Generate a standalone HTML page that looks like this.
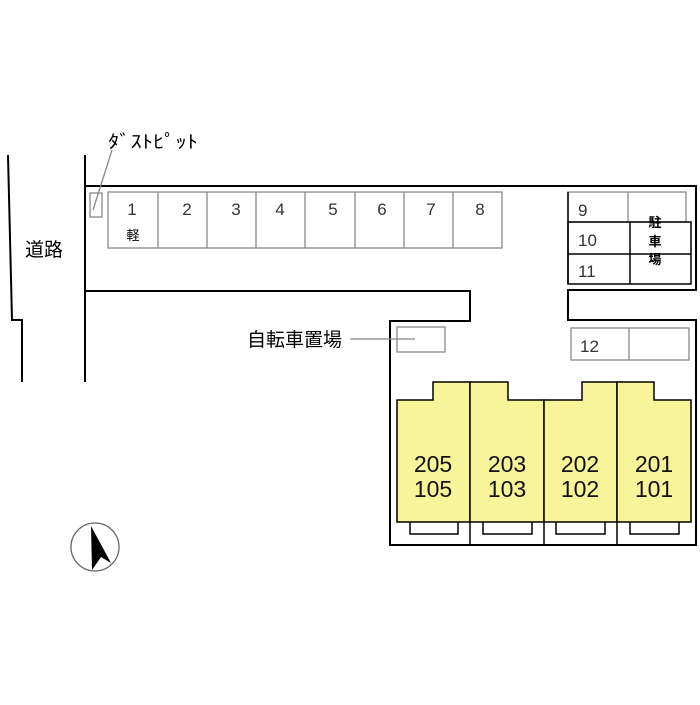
<!DOCTYPE html>
<html><head><meta charset="utf-8"><style>
html,body{margin:0;padding:0;background:#fff}
svg text{font-family:"Liberation Sans","Noto Sans CJK JP",sans-serif}
</style></head><body>
<svg width="700" height="700" viewBox="0 0 700 700" xmlns="http://www.w3.org/2000/svg">
<rect width="700" height="700" fill="#fff"/>
<g fill="none" stroke="#000" stroke-width="2">
<polyline points="8,155 12,320 22,320 22,382"/>
<line x1="85" y1="155" x2="85" y2="382"/>
<polyline points="85,186 696,186 696,290 568,290 568,320 696,320 696,545 390,545 390,321 470,321 470,291 85,291"/>
</g>
<g fill="none" stroke="#888" stroke-width="1.3">
<rect x="108" y="192" width="394" height="56"/>
<line x1="158" y1="192" x2="158" y2="248"/><line x1="207" y1="192" x2="207" y2="248"/>
<line x1="256" y1="192" x2="256" y2="248"/><line x1="305" y1="192" x2="305" y2="248"/>
<line x1="355" y1="192" x2="355" y2="248"/><line x1="404" y1="192" x2="404" y2="248"/>
<line x1="453" y1="192" x2="453" y2="248"/>
<rect x="90" y="193" width="12" height="24"/>
<line x1="112" y1="150" x2="93" y2="210"/>
<rect x="568" y="192" width="118" height="30"/>
<line x1="628" y1="192" x2="628" y2="222"/>
<rect x="571" y="328" width="118" height="32"/>
<line x1="629" y1="328" x2="629" y2="360"/>
<rect x="397" y="327" width="48" height="25"/>
<line x1="350" y1="339" x2="415" y2="339"/>
</g>
<g fill="none" stroke="#000" stroke-width="1.5">
<rect x="568" y="222" width="123" height="62"/>
<line x1="568" y1="254" x2="691" y2="254"/>
<line x1="630" y1="222" x2="630" y2="284"/>
<line x1="568" y1="192" x2="568" y2="284"/>
</g>
<g font-size="17" fill="#333" text-anchor="middle">
<text x="132" y="215">1</text><text x="187" y="215">2</text><text x="236" y="215">3</text>
<text x="280" y="215">4</text><text x="333" y="215">5</text><text x="382" y="215">6</text>
<text x="431" y="215">7</text><text x="480" y="215">8</text>
</g>
<text x="133" y="240" font-size="13" text-anchor="middle">軽</text>
<g font-size="17" fill="#333">
<text x="578" y="216">9</text><text x="578" y="246">10</text><text x="578" y="277">11</text>
<text x="580" y="352">12</text>
</g>
<g font-size="13" font-weight="bold" text-anchor="middle">
<text x="655" y="227">駐</text><text x="655" y="246">車</text><text x="655" y="264">場</text>
</g>
<text x="108" y="148" font-size="18" textLength="90" lengthAdjust="spacingAndGlyphs">ﾀﾞｽﾄﾋﾟｯﾄ</text>
<text x="25" y="256" font-size="19">道路</text>
<text x="247" y="346" font-size="19">自転車置場</text>
<g fill="#f8f49a" stroke="#000" stroke-width="1.5">
<polygon points="397,400 433,400 433,382 470,382 470,522 397,522"/>
<polygon points="470,382 508,382 508,400 544,400 544,522 470,522"/>
<polygon points="544,400 582,400 582,382 617,382 617,522 544,522"/>
<polygon points="617,382 654,382 654,400 691,400 691,522 617,522"/>
</g>
<g fill="none" stroke="#000" stroke-width="1.5">
<line x1="470" y1="522" x2="470" y2="545"/><line x1="544" y1="522" x2="544" y2="545"/><line x1="617" y1="522" x2="617" y2="545"/>
<polyline points="410,522 410,534 458,534 458,522"/>
<polyline points="483,522 483,534 532,534 532,522"/>
<polyline points="556,522 556,534 605,534 605,522"/>
<polyline points="630,522 630,534 679,534 679,522"/>
</g>
<g font-size="23" text-anchor="middle" fill="#111">
<text x="433" y="472">205</text><text x="433" y="497">105</text>
<text x="507" y="472">203</text><text x="507" y="497">103</text>
<text x="580" y="472">202</text><text x="580" y="497">102</text>
<text x="654" y="472">201</text><text x="654" y="497">101</text>
</g>
<circle cx="95" cy="547" r="24" fill="none" stroke="#666" stroke-width="1.3"/>
<polygon points="91,526 111,563 101,557 92,570" fill="#000"/>
</svg>
</body></html>
